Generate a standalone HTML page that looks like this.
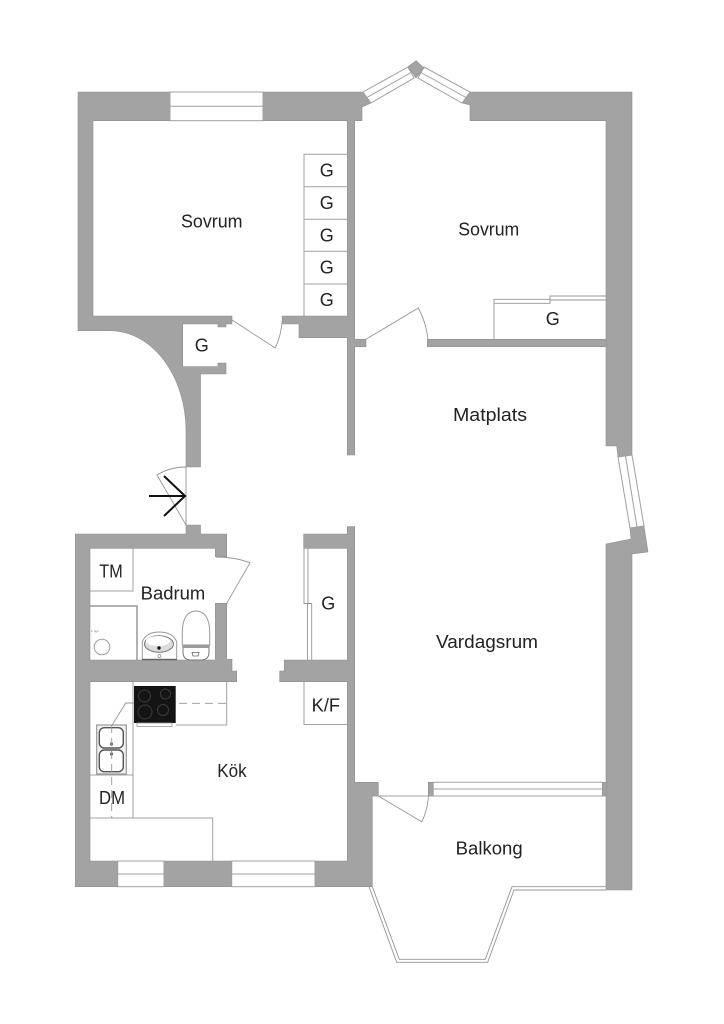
<!DOCTYPE html>
<html><head><meta charset="utf-8"><style>
html,body{margin:0;padding:0;background:#fff}
svg{display:block}
text{font-family:"Liberation Sans",sans-serif;font-size:18px;fill:#222}
.w{fill:#a3a3a3;stroke:#8f8f8f;stroke-width:.6}
.l{fill:none;stroke:#a0a0a0;stroke-width:1}
.d{fill:none;stroke:#969696;stroke-width:.9}
.win{fill:#fff;stroke:#a0a0a0;stroke-width:1}
</style></head><body>
<svg width="724" height="1024" viewBox="0 0 724 1024" xmlns="http://www.w3.org/2000/svg">
<rect width="724" height="1024" fill="#fff"/>

<!-- furniture lines -->
<path class="l" d="M304 316V154.3H347.3M304 186.7H347.3M304 219.3H347.3M304 251.3H347.3M304 284H347.3"/>
<path class="d" d="M494 339V299.3H550V296H606M494 303.3H550V300H606"/>
<path class="d" d="M304 548V603.5H307.5V660M308 548V603.5H311.7V660"/>
<path class="l" d="M304 682V724.5H347.3"/>
<path class="l" d="M90 591H133V548"/>
<path fill="none" stroke="#999" stroke-width="1.5" d="M90 606H137V660"/>
<path class="l" d="M133 682V818M90 775H133M90 818H212.7V861M176 725H226.7V682"/>
<path class="d" stroke-dasharray="8 5" d="M179 703.3H226"/>
<path class="d" d="M134 703H125.7L111.7 725.7"/>

<!-- walls -->
<path class="w" d="M78 92H363L371 103L362 107V120.7H354.7V339.3H366V346.7H354.7V455H347.3V337.7H299V324H282.3V316H347.3V120.7H93V316H232V324H226V327H218V324H182.7V366.7H218V363H226V374H200.5V467H186V431A76 100 0 0 0 110 330.7H78Z"/>
<path class="w" d="M470 92H632V455L618 457L616.7 446H606V120.7H470V105L462 103Z"/>
<rect class="w" x="427.3" y="339.3" width="179" height="7.4"/>
<path class="w" d="M630 528L644 526L648 552L632 554V890H606V544L631 539Z"/>
<path class="w" d="M75.3 534H186V525H200.5V534H226.7V556.7H215.3V548.3H90V660H215.3V603.3H226.7V659.3H232V671H236.7V681.7H90V861H347.3V681.7H279.7V671H284.3V660H347.3V548.3H303.7V534H347.3V526.7H354.7V782.3H378.3V796H372.3V886.7H75.3Z"/>
<rect class="w" x="428.3" y="782.3" width="5" height="13.7"/>
<rect class="w" x="602.3" y="782.3" width="4" height="13.7"/>

<!-- windows -->
<rect class="win" x="170" y="92" width="93" height="28.7"/><path class="l" d="M170 106.3H263"/>
<rect class="win" x="117.7" y="861" width="46.3" height="25.7"/><path class="l" d="M117.7 874H164"/>
<rect class="win" x="231.7" y="861" width="83.3" height="25.7"/><path class="l" d="M231.7 874H315"/>
<polygon class="win" points="363,92 408,67 414,78 371,103"/><path class="l" d="M367 97.5L411 72.5"/>
<polygon class="win" points="424,67 470,92 462,103 418,78"/><path class="l" d="M421 72.5L466 97.5"/>
<path class="w" d="M416 60.7L408 66.7L416 78L424 68Z"/>
<polygon class="win" points="618,457 632,455 644,526 630,528"/><path class="l" d="M625.5 456L637 527"/>
<path class="l" d="M433 782.3H602.3M433 789H602.3M372.3 796H606"/>

<!-- balcony rail -->
<path class="d" d="M369 886.7L396.7 962.3H487.7L514 890H606"/>
<path class="d" d="M372.3 886.7L399.3 959.3H485.3L512 886.7H606"/>

<!-- doors -->
<path class="d" d="M232 320L275.3 348Q281 336 282.3 320"/>
<path class="d" d="M366 339.3L418.3 308Q426 322 428 339.3"/>
<path class="d" d="M186 467V525L157 475Q170 467 186 467"/>
<path class="d" d="M216 557Q235 557 250 562.7L226.7 603.3"/>
<path class="d" d="M378.3 796L421.7 821.7Q428 810 429 790"/>

<!-- entry arrow -->
<path d="M149 496H185M164 476L185 496L164 516" fill="none" stroke="#111" stroke-width="2"/>

<!-- bathroom fixtures -->
<circle class="l" cx="102" cy="647" r="7.8"/>
<path class="l" stroke-dasharray="1.5 1.5" d="M91 631H99M96 631V634"/>
<path d="M142.3 660V642Q146 632 159 632Q173 632 176.7 642V660Z" fill="#fff" stroke="#999"/>
<path d="M142 659.5H177" stroke="#666" stroke-width="1.4"/>
<ellipse cx="159" cy="644" rx="14.5" ry="8.3" fill="#dcdcdc" stroke="#777"/>
<ellipse cx="158" cy="641" rx="12" ry="5" fill="#fff"/>
<circle cx="159" cy="648" r="1.7" fill="#111"/><circle cx="159.5" cy="656" r="1.5" fill="#fff" stroke="#888" stroke-width=".7"/>
<path d="M182.3 645V632C182.3 618 188 611 196 611C204 611 209.7 618 209.7 632V645Z" fill="#fff" stroke="#999"/>
<path d="M183 646H209V652Q209 660 201 660H191Q183 660 183 652Z" fill="#fff" stroke="#777"/>
<rect x="183" y="645" width="26" height="3" fill="#999"/>
<path d="M192 652.5H199L198 656H193Z" fill="#fff" stroke="#666" stroke-width=".8"/>

<!-- stove -->
<rect x="134" y="686" width="41.7" height="37" fill="#141414"/>
<rect x="137" y="723" width="35" height="3.5" fill="#fff" stroke="#999" stroke-width=".8"/>
<g fill="none" stroke="#3c3c3c" stroke-width="1">
<circle cx="144.5" cy="696" r="6"/><circle cx="165.5" cy="694" r="5"/><circle cx="145" cy="712" r="7"/><circle cx="163" cy="710" r="5.5"/>
</g>

<!-- sink -->
<rect x="96.7" y="725" width="29.6" height="49" fill="#f2f2f2" stroke="#999" stroke-width="1.2"/>
<rect x="99.3" y="727.7" width="24" height="20.3" rx="5" fill="#fff" stroke="#555" stroke-width="1.4"/>
<rect x="99.3" y="750" width="24" height="21.7" rx="5" fill="#fff" stroke="#555" stroke-width="1.4"/>
<circle cx="111.5" cy="744" r="1.6" fill="#666"/><circle cx="111.5" cy="754" r="1.6" fill="#666"/>
<path class="d" stroke-dasharray="8 5" d="M111.7 725V818"/>

<!-- labels -->
<text x="181" y="227.7" textLength="61.5" lengthAdjust="spacingAndGlyphs">Sovrum</text>
<text x="458.3" y="235.3" textLength="61" lengthAdjust="spacingAndGlyphs">Sovrum</text>
<text x="453" y="421" textLength="74" lengthAdjust="spacingAndGlyphs">Matplats</text>
<text x="436" y="648" textLength="102" lengthAdjust="spacingAndGlyphs">Vardagsrum</text>
<text x="217.3" y="777" textLength="29.4" lengthAdjust="spacingAndGlyphs">Kök</text>
<text x="455.7" y="854.3" textLength="67" lengthAdjust="spacingAndGlyphs">Balkong</text>
<text x="140.7" y="599.3" textLength="64.6" lengthAdjust="spacingAndGlyphs">Badrum</text>
<text x="99.3" y="577.3" textLength="23.4" lengthAdjust="spacingAndGlyphs">TM</text>
<text x="311.7" y="711.7" textLength="28.3" lengthAdjust="spacingAndGlyphs">K/F</text>
<text x="99" y="804" textLength="26" lengthAdjust="spacingAndGlyphs">DM</text>
<g text-anchor="middle">
<text x="326.7" y="176.7">G</text>
<text x="326.7" y="209">G</text>
<text x="326.7" y="241.3">G</text>
<text x="326.7" y="273.7">G</text>
<text x="326.7" y="306">G</text>
<text x="201.7" y="351.7">G</text>
<text x="552.7" y="325">G</text>
<text x="328.3" y="609.3">G</text>
</g>
</svg>
</body></html>
